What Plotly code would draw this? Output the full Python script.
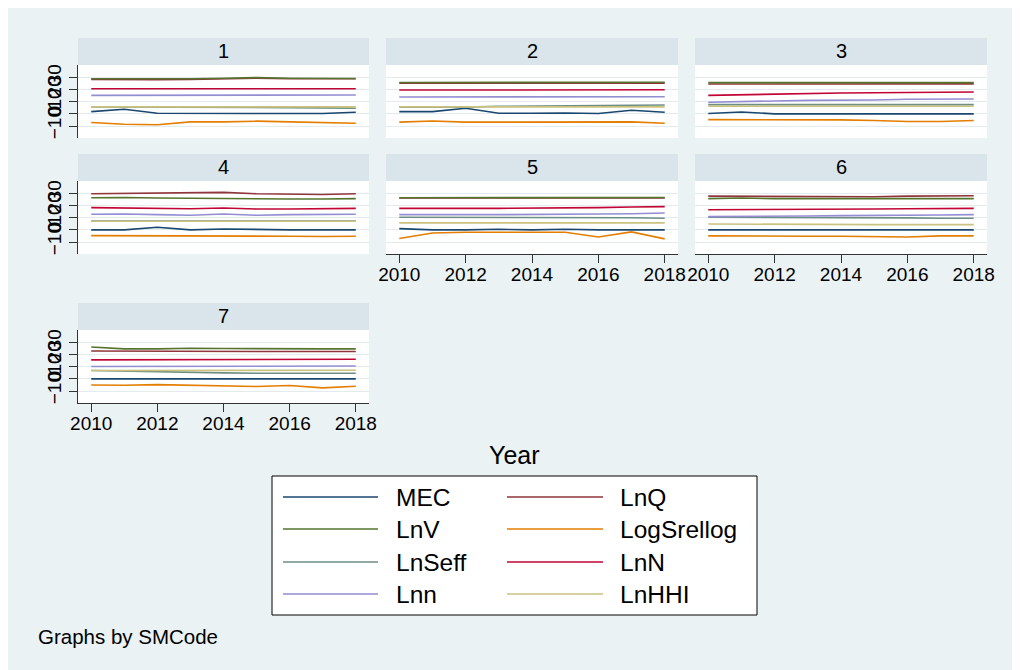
import plotly.graph_objects as go

years = [2010, 2011, 2012, 2013, 2014, 2015, 2016, 2017, 2018]
panels = ["1", "2", "3", "4", "5", "6", "7"]

# one list per panel (SMCode 1..7), values per year
MEC = [
    [1.9, 3.8, 0.5, 0.3, 0.3, 0.3, 0.3, 0.3, 1.4],
    [1.9, 1.9, 4.7, 0.5, 0.5, 0.8, 0.3, 3.0, 1.4],
    [0.3, 1.6, 0.0, 0.0, 0.0, 0.0, 0.0, -0.3, 0.0],
    [0.0, 0.0, 2.2, 0.0, 0.8, 0.3, 0.0, 0.0, 0.0],
    [1.1, 0.0, 0.0, 0.5, 0.0, 0.5, 0.0, 0.0, 0.0],
    [0.0, 0.0, 0.0, 0.0, 0.0, 0.0, 0.0, 0.0, 0.0],
    [0.0, 0.0, 0.0, 0.0, 0.0, 0.0, -0.3, 0.0, 0.0],
]
LnQ = [
    [28.5, 28.2, 28.2, 28.4, 28.8, 29.5, 29.0, 29.0, 29.0],
    [25.3, 25.3, 25.3, 25.3, 25.3, 25.3, 25.3, 25.3, 25.4],
    [24.7, 24.7, 24.8, 24.8, 24.8, 24.8, 24.8, 24.8, 24.8],
    [29.9, 30.1, 30.4, 30.7, 31.0, 29.9, 29.3, 29.3, 29.9],
    [26.3, 26.3, 26.3, 26.3, 26.3, 26.3, 26.3, 26.4, 26.4],
    [27.9, 27.7, 27.4, 27.4, 27.4, 27.4, 27.9, 28.2, 28.2],
    [23.1, 22.9, 22.9, 22.9, 22.6, 22.6, 22.6, 22.6, 22.6],
]
LnV = [
    [29.0, 29.0, 28.8, 29.0, 29.5, 30.0, 29.5, 29.3, 29.3],
    [26.0, 26.0, 26.0, 26.0, 26.0, 26.0, 26.0, 26.1, 26.2],
    [25.8, 25.8, 25.8, 25.8, 25.8, 25.8, 25.8, 25.8, 25.8],
    [26.6, 26.8, 26.3, 26.0, 26.0, 25.5, 25.5, 25.5, 25.8],
    [26.6, 26.6, 26.6, 26.8, 26.8, 26.8, 26.8, 26.8, 26.8],
    [25.8, 26.3, 25.8, 25.8, 25.8, 25.5, 25.8, 25.8, 25.8],
    [26.4, 24.8, 24.8, 25.3, 25.1, 24.8, 24.8, 24.8, 24.8],
]
LogSrellog = [
    [-7.1, -8.5, -9.0, -6.6, -6.6, -6.0, -6.6, -7.4, -7.7],
    [-6.8, -5.8, -6.8, -6.8, -7.1, -7.1, -7.1, -6.6, -7.7],
    [-4.7, -4.7, -5.2, -5.2, -4.9, -5.5, -6.3, -6.3, -5.5],
    [-4.7, -4.7, -4.9, -5.2, -4.9, -4.9, -5.2, -5.5, -5.2],
    [-7.1, -2.5, -1.9, -1.9, -1.9, -1.9, -5.8, -1.6, -7.4],
    [-4.9, -5.2, -5.5, -5.2, -5.2, -5.2, -5.8, -4.9, -4.9],
    [-5.0, -5.2, -4.7, -5.2, -5.8, -6.3, -5.5, -7.4, -6.1],
]
LnSeff = [
    [5.8, 5.8, 5.8, 5.8, 5.5, 5.5, 5.2, 5.0, 4.7],
    [5.6, 5.6, 5.6, 6.3, 6.6, 6.8, 7.1, 7.4, 7.4],
    [7.7, 7.7, 7.7, 7.7, 7.7, 7.7, 7.7, 7.7, 7.7],
    [7.4, 7.4, 7.1, 7.1, 7.1, 7.1, 7.4, 7.4, 7.4],
    [10.4, 10.4, 10.4, 10.4, 10.4, 10.4, 10.1, 10.1, 9.6],
    [10.4, 10.4, 10.1, 10.1, 10.1, 9.9, 9.9, 9.6, 9.6],
    [6.9, 6.3, 6.3, 5.5, 5.0, 4.7, 4.7, 5.2, 4.7],
]
LnN = [
    [20.8, 20.8, 20.6, 20.8, 20.8, 20.8, 20.8, 20.8, 20.8],
    [19.7, 19.7, 19.7, 19.7, 19.7, 19.7, 19.7, 19.7, 19.9],
    [15.3, 15.9, 16.4, 17.0, 17.3, 17.5, 17.5, 17.8, 18.1],
    [18.4, 18.1, 17.8, 17.5, 18.1, 17.3, 17.3, 17.5, 17.8],
    [17.8, 18.1, 17.8, 17.8, 17.8, 18.1, 18.4, 18.9, 19.2],
    [16.7, 16.7, 16.7, 17.0, 17.0, 17.3, 17.5, 17.8, 17.8],
    [15.7, 15.7, 15.7, 16.0, 16.0, 16.3, 16.3, 16.3, 16.3],
]
Lnn = [
    [15.3, 15.3, 15.1, 15.3, 15.3, 15.6, 15.6, 15.6, 15.6],
    [14.0, 14.0, 14.0, 14.0, 14.0, 14.0, 14.0, 14.2, 14.2],
    [9.6, 9.9, 10.7, 11.2, 11.2, 11.5, 12.1, 12.3, 12.3],
    [12.9, 13.2, 12.6, 12.1, 13.2, 12.1, 12.6, 12.9, 12.9],
    [12.6, 12.9, 12.6, 12.6, 12.6, 12.9, 13.2, 13.4, 14.0],
    [11.0, 11.0, 11.2, 11.5, 11.8, 11.8, 12.1, 12.3, 12.6],
    [10.2, 10.2, 10.2, 10.2, 10.2, 10.5, 10.5, 10.5, 10.7],
]
LnHHI = [
    [5.8, 5.8, 5.8, 5.8, 5.8, 5.8, 5.8, 5.8, 5.8],
    [5.8, 5.8, 5.8, 5.8, 5.8, 5.8, 5.8, 5.8, 5.8],
    [6.3, 6.3, 6.3, 6.3, 6.3, 6.3, 6.3, 6.3, 6.3],
    [7.1, 7.1, 7.1, 7.1, 7.1, 7.1, 7.1, 7.1, 7.1],
    [5.8, 5.8, 5.8, 5.8, 5.8, 5.8, 5.8, 5.8, 5.8],
    [4.9, 4.7, 4.4, 4.4, 4.4, 4.4, 4.4, 4.4, 4.4],
    [6.9, 6.9, 6.9, 6.9, 6.9, 6.9, 6.9, 6.9, 7.1],
]

series = [
    ("MEC", MEC, "#1a476f"),
    ("LnQ", LnQ, "#90353b"),
    ("LnV", LnV, "#55752f"),
    ("LogSrellog", LogSrellog, "#e37e00"),
    ("LnSeff", LnSeff, "#6e8e84"),
    ("LnN", LnN, "#c10534"),
    ("Lnn", Lnn, "#938dd2"),
    ("LnHHI", LnHHI, "#cac27e"),
]

# page body has an 8px margin, so the figure is a bit smaller than the window
OFF = 8
W, H = 1012, 662
FONT = "Liberation Sans, Arial, sans-serif"
BG = "#eaf2f3"
STRIP = "#d9e5ea"
GRID = "#e3ebee"

col_px = [(78, 369), (386, 678), (695, 987)]
row_px = [(65, 138), (181, 254), (330, 403)]
strip_h = 27


def fx(p):
    return (p - OFF) / W


def fy(p):
    return 1 - (p - OFF) / H


fig = go.Figure()
shapes = [dict(type="rect", xref="paper", yref="paper", x0=0, x1=1, y0=0, y1=1,
               fillcolor=BG, line=dict(width=0), layer="below")]
annotations = []
layout = {}

for i, name in enumerate(panels):
    r, c = divmod(i, 3)
    x0, x1 = col_px[c]
    y0, y1 = row_px[r]
    sfx = "" if i == 0 else str(i + 1)
    for label, data, color in series:
        fig.add_trace(go.Scatter(x=years, y=data[i], mode="lines", name=label,
                                 line=dict(color=color, width=1.6),
                                 xaxis="x" + sfx, yaxis="y" + sfx, showlegend=False))
    bottom = i >= 4
    layout["xaxis" + sfx] = dict(
        domain=[fx(x0), fx(x1)], range=[2009.6, 2018.4], anchor="y" + sfx,
        tickvals=[2010, 2012, 2014, 2016, 2018], showgrid=False, zeroline=False,
        showticklabels=bottom, ticks="outside" if bottom else "", ticklen=8,
        tickcolor="#333333", showline=bottom, linecolor="#333333", linewidth=1,
        ticklabelstandoff=-5,
        tickfont=dict(size=19, color="black", family=FONT), automargin=False,
    )
    left = c == 0
    layout["yaxis" + sfx] = dict(
        domain=[fy(y1), fy(y0)], range=[-19.9, 40.4], anchor="x" + sfx,
        tickvals=[-10, 0, 10, 20, 30], showgrid=True, gridcolor=GRID, gridwidth=1,
        zeroline=False, showticklabels=left, ticks="outside" if left else "",
        ticklen=8, tickcolor="#333333", showline=left, linecolor="#333333", linewidth=1,
        tickangle=-90, tickfont=dict(size=19, color="black", family=FONT), automargin=False,
    )
    # white plot area + strip header
    shapes.append(dict(type="rect", xref="paper", yref="paper", x0=fx(x0), x1=fx(x1),
                       y0=fy(y1), y1=fy(y0), fillcolor="white", line=dict(width=0), layer="below"))
    shapes.append(dict(type="rect", xref="paper", yref="paper", x0=fx(x0), x1=fx(x1),
                       y0=fy(y0), y1=fy(y0 - strip_h), fillcolor=STRIP, line=dict(width=0)))
    annotations.append(dict(x=fx((x0 + x1) / 2), y=fy(y0 - strip_h / 2), xref="paper", yref="paper",
                            text=name, showarrow=False, xanchor="center", yanchor="middle",
                            font=dict(size=20, color="black", family=FONT)))

# axis title
annotations.append(dict(x=fx(514), y=fy(455), xref="paper", yref="paper", text="Year",
                        showarrow=False, xanchor="center", yanchor="middle",
                        font=dict(size=25, color="black", family=FONT)))

# legend box drawn by hand (Stata style, two columns)
shapes.append(dict(type="rect", xref="paper", yref="paper", x0=fx(272), x1=fx(757),
                   y0=fy(615), y1=fy(476), fillcolor="white", line=dict(color="black", width=1)))
leg_rows = [497, 529, 562, 594]
leg_cols = [(283, 378, 394), (507, 603, 618)]
for k, (label, _, color) in enumerate(series):
    rr, cc = divmod(k, 2)
    lx0, lx1, tx = leg_cols[cc]
    ly = leg_rows[rr]
    shapes.append(dict(type="line", xref="paper", yref="paper", x0=fx(lx0), x1=fx(lx1),
                       y0=fy(ly), y1=fy(ly), line=dict(color=color, width=1.6)))
    annotations.append(dict(x=fx(tx), y=fy(ly), xref="paper", yref="paper", text=label,
                            showarrow=False, xanchor="left", yanchor="middle",
                            font=dict(size=24.5, color="black", family=FONT)))

annotations.append(dict(x=fx(36), y=fy(636), xref="paper", yref="paper", text="Graphs by SMCode",
                        showarrow=False, xanchor="left", yanchor="middle",
                        font=dict(size=20.5, color="black", family=FONT)))

fig.update_layout(
    width=W, height=H,
    margin=dict(l=0, r=0, t=0, b=0, pad=0),
    paper_bgcolor="white",
    plot_bgcolor="white",
    showlegend=False,
    shapes=shapes,
    annotations=annotations,
    **layout,
)

fig.write_html("out.html")
